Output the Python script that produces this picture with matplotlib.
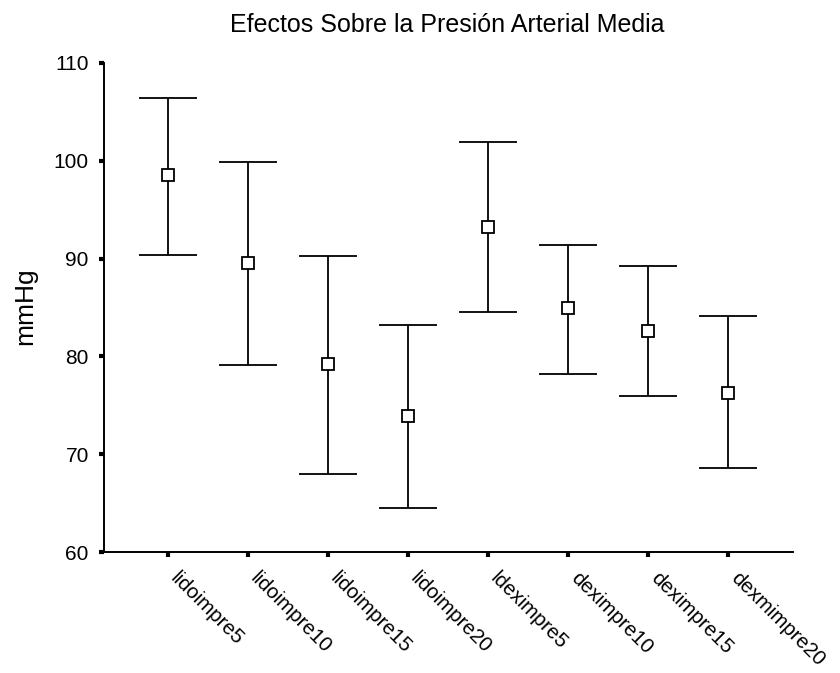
import matplotlib
matplotlib.use("Agg")
import matplotlib.pyplot as plt
import matplotlib.transforms as mtransforms
import numpy as np

plt.rcParams['font.family'] = ['Liberation Sans', 'DejaVu Sans']

categories = ["lidoimpre5", "lidoimpre10", "lidoimpre15", "lidoimpre20",
              "ldeximpre5", "deximpre10", "deximpre15", "dexmimpre20"]
means = [98.5, 89.5, 79.2, 73.9, 93.2, 84.9, 82.6, 76.3]
upper = [106.4, 99.9, 90.3, 83.2, 101.9, 91.4, 89.2, 84.1]
lower = [90.4, 79.1, 68.0, 64.5, 84.5, 78.2, 76.0, 68.6]
yticks = [60, 70, 80, 90, 100, 110]

W, H = 840, 673
fig = plt.figure(figsize=(W / 100, H / 100), dpi=100)
ax = fig.add_axes([104 / W, (H - 552.3) / H, (793 - 104) / W, (552.3 - 62.7) / H])

x = np.arange(len(categories))
m = np.array(means)
yerr = np.vstack([m - np.array(lower), np.array(upper) - m])

ax.errorbar(x, m, yerr=yerr, fmt='s', mfc='white', mec='black', mew=1.3,
            ms=9, ecolor='black', elinewidth=1.3, capsize=21, capthick=1.3,
            color='black', zorder=3)

ax.set_xlim(-0.8, 7.81)
ax.set_ylim(60, 110)
ax.set_yticks(yticks)
ax.set_xticks(x)
ax.set_xticklabels(categories, rotation=-45, ha='left', va='top',
                   rotation_mode='anchor', fontsize=14.8)
ax.tick_params(axis='y', labelsize=15, direction='out', length=3.6, width=3, pad=7.3)
ax.tick_params(axis='x', direction='out', length=3.6, width=3, pad=8)

# shift the slanted category labels a little to the right of their ticks
shift = mtransforms.ScaledTranslation(12 / 100, 0, fig.dpi_scale_trans)
for lbl in ax.get_xticklabels():
    lbl.set_transform(lbl.get_transform() + shift)

for side in ('top', 'right'):
    ax.spines[side].set_visible(False)
for side in ('left', 'bottom'):
    ax.spines[side].set_linewidth(1.4)

fig.text(25 / W, 1 - 306 / H, "mmHg", rotation=90, fontsize=19,
         ha='center', va='center')
fig.text(447 / W, 1 - 25 / H, "Efectos Sobre la Presión Arterial Media",
         fontsize=18, ha='center', va='center')

fig.savefig("out.png", dpi=100)
